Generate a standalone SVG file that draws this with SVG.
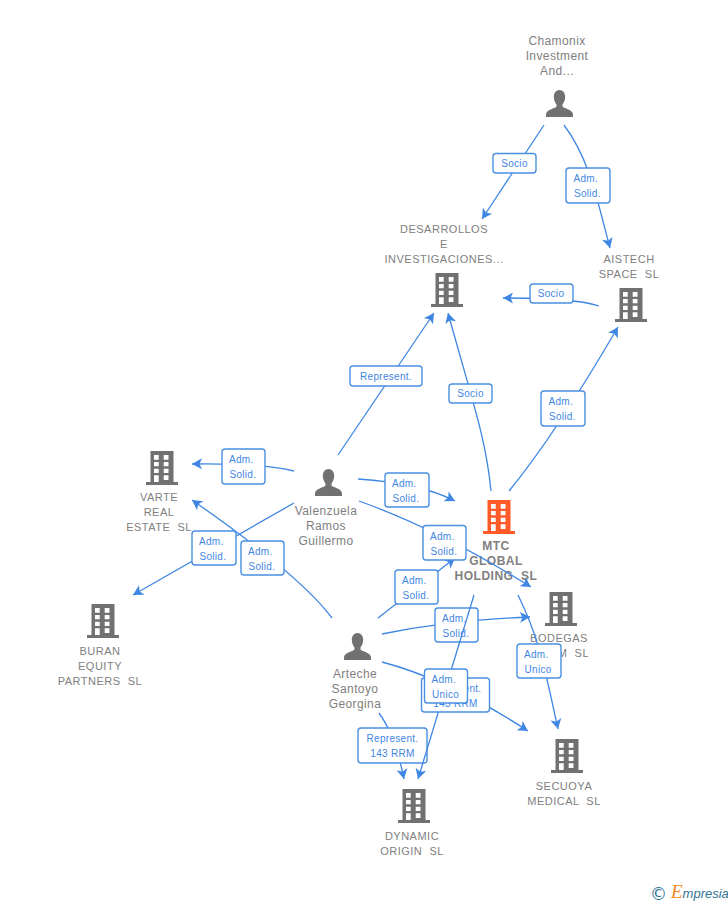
<svg xmlns="http://www.w3.org/2000/svg" width="728" height="905" viewBox="0 0 728 905">
<style>
.n{font:11px "Liberation Sans",Arial,sans-serif;letter-spacing:.5px;fill:#808080;text-anchor:middle;white-space:pre}
.p{font:12px "Liberation Sans",Arial,sans-serif;letter-spacing:.4px;fill:#808080;text-anchor:middle}
.b{font-weight:bold;font-size:12px}
.c{fill:none;stroke:#3f86e4;stroke-width:1.3;marker-end:url(#arrow)}
.r{fill:#fff;stroke:#4a90e2;stroke-width:1.4}
.t{font:10px "Liberation Sans",Arial,sans-serif;letter-spacing:.3px;fill:#3f86e4}
.m{text-anchor:middle}
.g{fill:#717171}
</style>
<defs>
<marker id="arrow" markerUnits="userSpaceOnUse" markerWidth="14" markerHeight="14" refX="11" refY="7" orient="auto">
<path d="M11 7L1 1.500L3.500 7L1 12.500Z" fill="#3f86e4"/>
</marker>
<symbol id="bld" viewBox="0 0 32 34" width="32" height="34" overflow="visible">
<path fill="currentColor" fill-rule="evenodd" d="M4.500 0H27.500V31H32V34H0V31H4.500ZM8 4V8.700H12.700V4ZM17.700 4V8.700H22.500V4ZM8 11V15.300H12.700V11ZM17.700 11V15.300H22.500V11ZM8 17.700V22H12.700V17.700ZM17.700 17.700V22H22.500V17.700ZM8 24.300V31H12.700V24.300ZM17.700 24.300V29H22.500V24.300Z"/>
</symbol>
<symbol id="psn" viewBox="0 0 27 27" width="27" height="27" overflow="visible">
<path class="g" d="M13.500 0C17 0 19.200 3 19.200 7C19.200 10.500 17.500 13 16.500 14.500V16.500C18 18.500 27 19.500 27 24.500V27H0V24.500C0 19.500 9 18.500 10.500 16.500V14.500C9.500 13 7.800 10.500 7.800 7C7.800 3 10 0 13.500 0Z"/>
</symbol>
</defs>
<g id="node-chamonix"><text class="p"><tspan x="557" y="45">Chamonix</tspan><tspan x="557" y="60">Investment</tspan><tspan x="557" y="75">And...</tspan></text><use href="#psn" x="546" y="90"/></g>
<g id="node-desarrollos" color="#717171"><text class="n"><tspan x="444" y="233">DESARROLLOS</tspan><tspan x="444" y="248">E</tspan><tspan x="444" y="263">INVESTIGACIONES...</tspan></text><use href="#bld" x="431" y="273"/></g>
<g id="node-aistech" color="#717171"><text class="n"><tspan x="629" y="263">AISTECH</tspan><tspan x="629" y="278">SPACE  SL</tspan></text><use href="#bld" x="615" y="288"/></g>
<g id="node-mtc" color="#ff5a27"><use href="#bld" x="483" y="500"/><text class="n b"><tspan x="496" y="550">MTC</tspan><tspan x="496" y="565">GLOBAL</tspan><tspan x="496" y="580">HOLDING  SL</tspan></text></g>
<g id="node-bodegas" color="#717171"><use href="#bld" x="545" y="592"/><text class="n" x="559" y="642">BODEGAS</text><text class="n" x="589" y="657" style="text-anchor:end">M  SL</text></g>
<g id="node-secuoya" color="#717171"><use href="#bld" x="551" y="739"/><text class="n"><tspan x="564" y="790">SECUOYA</tspan><tspan x="564" y="805">MEDICAL  SL</tspan></text></g>
<g id="node-dynamic" color="#717171"><use href="#bld" x="398" y="789"/><text class="n"><tspan x="412" y="840">DYNAMIC</tspan><tspan x="412" y="855">ORIGIN  SL</tspan></text></g>
<g id="node-varte" color="#717171"><use href="#bld" x="146" y="451"/><text class="n"><tspan x="159" y="501">VARTE</tspan><tspan x="159" y="516">REAL</tspan><tspan x="159" y="531">ESTATE  SL</tspan></text></g>
<g id="node-buran" color="#717171"><use href="#bld" x="87" y="604"/><text class="n"><tspan x="100" y="655">BURAN</tspan><tspan x="100" y="670">EQUITY</tspan><tspan x="100" y="685">PARTNERS  SL</tspan></text></g>
<g id="node-valenzuela"><use href="#psn" x="315" y="469"/><text class="p"><tspan x="326" y="515">Valenzuela</tspan><tspan x="326" y="530">Ramos</tspan><tspan x="326" y="545">Guillermo</tspan></text></g>
<g id="node-arteche"><use href="#psn" x="344" y="633"/><text class="p"><tspan x="355" y="678">Arteche</tspan><tspan x="355" y="693">Santoyo</tspan><tspan x="355" y="708">Georgina</tspan></text></g>
<g id="connectors">
<path class="c" d="M544 125L482 219"/>
<path class="c" d="M564 125C590 160 597 200 610 248"/>
<path class="c" d="M599 306Q575 298 503 298"/>
<path class="c" d="M338 455L434 313"/>
<path class="c" d="M491 491C486 440 475 410 448 313"/>
<path class="c" d="M509 491Q555 435 618 327"/>
<path class="c" d="M294 471Q260 463 192 464"/>
<path class="c" d="M358 479Q420 483 455 501"/>
<path class="c" d="M359 501Q440 530 531 587"/>
<path class="c" d="M294 503L133 595"/>
<path class="c" d="M332 618Q300 575 192 500"/>
<path class="c" d="M378 618L455 558"/>
<path class="c" d="M382 634Q450 620 530 617"/>
<path class="c" d="M382 662Q450 680 528 731"/>
<path class="c" d="M379 713Q395 735 404 779"/>
<path class="c" d="M518 595C540 640 545 670 558 729"/>
<g id="edge-labels">
<rect class="r" x="493" y="153.500" width="43" height="19.500" rx="3"/><text class="t m" x="514.500" y="167">Socio</text>
<rect class="r" x="566" y="168" width="44" height="35" rx="3"/><text class="t"><tspan x="573.500" y="182">Adm.</tspan><tspan x="574" y="197">Solid.</tspan></text>
<rect class="r" x="530" y="284" width="43" height="19" rx="3"/><text class="t m" x="551" y="297">Socio</text>
<rect class="r" x="350" y="366" width="72" height="20" rx="3"/><text class="t m" x="386" y="380">Represent.</text>
<rect class="r" x="449" y="384" width="43" height="19" rx="3"/><text class="t m" x="470.500" y="397">Socio</text>
<rect class="r" x="541" y="391" width="44" height="35" rx="3"/><text class="t"><tspan x="548.500" y="405">Adm.</tspan><tspan x="549" y="420">Solid.</tspan></text>
<rect class="r" x="222" y="449" width="43" height="35" rx="3"/><text class="t"><tspan x="229" y="463">Adm.</tspan><tspan x="229.500" y="478">Solid.</tspan></text>
<rect class="r" x="385" y="473" width="44" height="34" rx="3"/><text class="t"><tspan x="392" y="487">Adm.</tspan><tspan x="392.500" y="502">Solid.</tspan></text>
<rect class="r" x="423" y="525.500" width="43" height="34.500" rx="3"/><text class="t"><tspan x="430" y="540">Adm.</tspan><tspan x="430.500" y="555">Solid.</tspan></text>
<rect class="r" x="395" y="570" width="43" height="34" rx="3"/><text class="t"><tspan x="402" y="584">Adm.</tspan><tspan x="402.500" y="599">Solid.</tspan></text>
<rect class="r" x="435" y="608" width="43" height="34" rx="3"/><text class="t"><tspan x="442" y="622">Adm.</tspan><tspan x="442.500" y="637">Solid.</tspan></text>
<rect class="r" x="192" y="531" width="44" height="34" rx="3"/><text class="t"><tspan x="199" y="545">Adm.</tspan><tspan x="199.500" y="560">Solid.</tspan></text>
<rect class="r" x="241" y="541" width="43" height="34" rx="3"/><text class="t"><tspan x="248" y="555">Adm.</tspan><tspan x="248.500" y="570">Solid.</tspan></text>
<rect class="r" x="358" y="728" width="69" height="35" rx="3"/><text class="t m"><tspan x="392.500" y="742">Represent.</tspan><tspan x="392.500" y="757">143 RRM</tspan></text>
<path class="c" d="M474 595L418 779"/>
<rect class="r" x="421.500" y="678" width="68" height="34" rx="3"/><text class="t m"><tspan x="455.500" y="692">Represent.</tspan><tspan x="455.500" y="707">143 RRM</tspan></text>
<rect class="r" x="424.500" y="669" width="43" height="34" rx="3"/><text class="t"><tspan x="431.500" y="683">Adm.</tspan><tspan x="432" y="698">Unico</tspan></text>
<rect class="r" x="517" y="644" width="44" height="34" rx="3"/><text class="t"><tspan x="524" y="658">Adm.</tspan><tspan x="524.500" y="673">Unico</tspan></text>
</g>
</g>
<g id="logo"><text x="650" y="900" font-family="'DejaVu Sans',sans-serif" font-size="17" fill="#2f7391">©</text><text x="671" y="898" font-family="'Liberation Sans',sans-serif" font-style="italic" font-size="13" fill="#2f7391"><tspan font-family="'Liberation Serif',serif" font-size="19" fill="#f08a1d">E</tspan>mpresia</text></g>
</svg>
